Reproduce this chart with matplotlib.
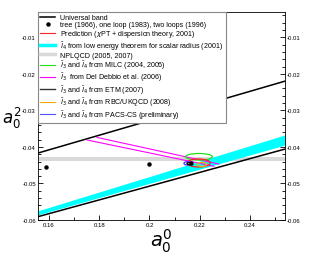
import numpy as np
import matplotlib
matplotlib.use("Agg")
import matplotlib.pyplot as plt
from matplotlib.patches import Ellipse
from matplotlib.lines import Line2D
from matplotlib.ticker import MultipleLocator, FormatStrFormatter

plt.rcParams['font.family'] = ['Liberation Sans', 'DejaVu Sans']
plt.rcParams['mathtext.fontset'] = 'dejavusans'
plt.rcParams['axes.unicode_minus'] = False

# ---- data ----
band_a0 = [0.155, 0.255]
band_upper = [-0.0418, -0.0218]
band_lower = [-0.0592, -0.0404]

cyan_a0 = [0.155, 0.255]
cyan_upper = [-0.0576, -0.0365]
cyan_lower = [-0.0587, -0.0393]

nplqcd_a0 = [0.155, 0.255]
nplqcd_upper = -0.0428
nplqcd_lower = -0.0439

dd_line1_a0 = [0.1791, 0.2277]
dd_line1_a2 = [-0.0374, -0.0447]
dd_line2_a0 = [0.1751, 0.2257]
dd_line2_a2 = [-0.0381, -0.0453]

dots_a0 = [0.1587, 0.2000, 0.2165]
dots_a2 = [-0.0454, -0.0446, -0.0444]

ell_names = ["MILC", "CGL", "PACS", "RBC", "ETM"]
ell_a0 = [0.2197, 0.2196, 0.2151, 0.2209, 0.2160]
ell_a2 = [-0.0427, -0.0444, -0.0445, -0.0448, -0.0446]
ell_w = [0.0107, 0.0092, 0.0027, 0.0037, 0.0020]
ell_h = [0.0018, 0.0022, 0.0009, 0.0011, 0.0006]
ell_colors = ["#22dd22", "#ff2020", "#3333ff", "#ffaa00", "#000000"]

legend_labels = [
    "Universal band",
    "tree (1966), one loop (1983), two loops (1996)",
    "Prediction ($\\chi$PT + dispersion theory, 2001)",
    "$\\bar{l}_4$ from low energy theorem for scalar radius (2001)",
    "NPLQCD (2005, 2007)",
    "$\\bar{l}_3$ and $\\bar{l}_4$ from MILC (2004, 2006)",
    "$\\bar{l}_3$  from Del Debbio et al. (2006)",
    "$\\bar{l}_3$ and $\\bar{l}_4$ from ETM (2007)",
    "$\\bar{l}_3$ and $\\bar{l}_4$ from RBC/UKQCD (2008)",
    "$\\bar{l}_3$ and $\\bar{l}_4$ from PACS-CS (preliminary)",
]

fig = plt.figure(figsize=(3.3, 2.55), dpi=100)
ax = fig.add_axes([38/330, 34/255, (285-38)/330, (221-12.7)/255])

ax.fill_between(nplqcd_a0, nplqcd_lower, nplqcd_upper, color="#d9d9d9", lw=0, zorder=1)
ax.fill_between(cyan_a0, cyan_lower, cyan_upper, color="#00ffff", lw=0, zorder=2)
ax.plot(band_a0, band_upper, color="black", lw=1.1, zorder=3)
ax.plot(band_a0, band_lower, color="black", lw=1.1, zorder=3)
ax.plot(dd_line1_a0, dd_line1_a2, color="#ff00ff", lw=0.8, zorder=4)
ax.plot(dd_line2_a0, dd_line2_a2, color="#ff00ff", lw=0.8, zorder=4)
for x, y, w, h, c in zip(ell_a0, ell_a2, ell_w, ell_h, ell_colors):
    ax.add_patch(Ellipse((x, y), w, h, fill=False, edgecolor=c, lw=0.9, zorder=5))
ax.plot(dots_a0, dots_a2, 'o', color="black", ms=2.2, zorder=6)

ax.set_xlim(0.1556, 0.254)
ax.set_ylim(-0.06, -0.003)

ax.xaxis.set_major_locator(MultipleLocator(0.02))
ax.xaxis.set_minor_locator(MultipleLocator(0.01))
ax.yaxis.set_major_locator(MultipleLocator(0.01))
ax.yaxis.set_minor_locator(MultipleLocator(0.002))
ax.xaxis.set_major_formatter(FormatStrFormatter('%g'))
ax.yaxis.set_major_formatter(FormatStrFormatter('%g'))
ax.tick_params(which='both', direction='in', labelsize=4.3, width=0.6,
               left=True, right=True, top=False, bottom=True,
               labelleft=True, labelright=True, pad=1.5)
ax.tick_params(which='major', length=3.5)
ax.tick_params(which='minor', length=2)
for s in ax.spines.values():
    s.set_linewidth(0.6)

ax.set_xlabel("$a_0^0$", fontsize=14, labelpad=0)
ax.set_ylabel("$a_0^2$", fontsize=12, rotation=0, labelpad=0)
ax.yaxis.set_label_coords(-0.108, 0.43)

handles = [
    Line2D([], [], color="black", lw=1.1),
    Line2D([], [], ls='none', marker='o', color="black", ms=2.2),
    Line2D([], [], color="#ff2020", lw=0.8),
    Line2D([], [], color="#00ffff", lw=2.5),
    Line2D([], [], color="#d9d9d9", lw=2.5),
    Line2D([], [], color="#22dd22", lw=0.8),
    Line2D([], [], color="#ff00ff", lw=0.8),
    Line2D([], [], color="#333333", lw=1.0),
    Line2D([], [], color="#ffaa00", lw=0.8),
    Line2D([], [], color="#5050ff", lw=0.8),
]
leg = ax.legend(handles, legend_labels, loc='upper left', bbox_to_anchor=(0, 1),
                borderaxespad=0, fontsize=5.1, handlelength=2.1, handletextpad=0.7,
                labelspacing=0.0, borderpad=0.35, fancybox=False, framealpha=1,
                edgecolor="#888888")
leg.get_frame().set_linewidth(0.8)
leg.set_zorder(10)

fig.savefig("out.png", dpi=100)
